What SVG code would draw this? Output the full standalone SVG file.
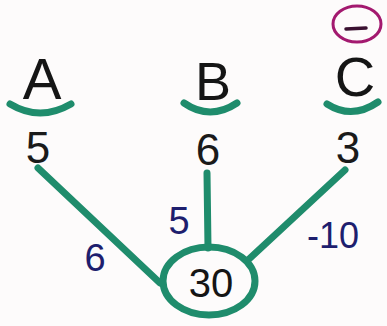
<svg xmlns="http://www.w3.org/2000/svg" width="387" height="326" viewBox="0 0 387 326">
<style>
.lbl{font-family:"Liberation Sans",Arial,sans-serif;fill:#151515;text-anchor:middle}
.val{font-family:"Liberation Sans",Arial,sans-serif;fill:#1a1a1a;text-anchor:middle;font-size:44px}
.w{font-family:"Liberation Sans",Arial,sans-serif;fill:#1e1e6e;text-anchor:middle}
.brace{fill:none;stroke:#1f8c6c;stroke-width:7;stroke-linecap:round}
.edge{stroke:#1f8c6c;stroke-width:7;stroke-linecap:round}
</style>
<rect width="387" height="326" fill="#fdfbfb"/>
<g id="node-A">
<text class="lbl" x="42" y="99" font-size="58">A</text>
<path class="brace" d="M10,104 Q40,122 71,104"/>
<text class="val" x="38" y="163">5</text>
</g>
<g id="node-B">
<text class="lbl" x="213" y="100" font-size="54">B</text>
<path class="brace" d="M184,103 Q210,121 237,103"/>
<text class="val" x="208" y="165">6</text>
</g>
<g id="node-C">
<text class="lbl" x="355" y="96" font-size="56">C</text>
<path class="brace" d="M327,104 Q352,120 378,102"/>
<text class="val" x="348" y="163">3</text>
<ellipse cx="357" cy="24" rx="24" ry="18" fill="none" stroke="#a3196f" stroke-width="3"/>
<line x1="346" y1="29" x2="366" y2="28" stroke="#3a1030" stroke-width="3.5" stroke-linecap="round"/>
</g>
<g id="connectors">
<line class="edge" x1="38" y1="168" x2="160" y2="283"/>
<line class="edge" x1="207" y1="173" x2="208" y2="248"/>
<line class="edge" x1="345" y1="170" x2="248" y2="260"/>
<text class="w" x="95" y="271" font-size="38">6</text>
<text class="w" x="179" y="234" font-size="38">5</text>
<text class="w" x="333" y="248" font-size="36">-10</text>
</g>
<g id="node-30">
<ellipse cx="209" cy="281" rx="46" ry="34" fill="none" stroke="#1f8c6c" stroke-width="7"/>
<text class="lbl" x="211" y="297" font-size="40">30</text>
</g>
</svg>
